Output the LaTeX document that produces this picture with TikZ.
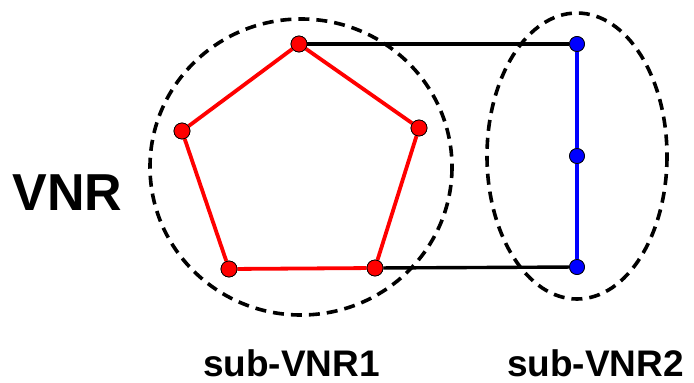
\documentclass[tikz,border=0pt]{standalone}
\usepackage{fontspec}
\setmainfont{Liberation Sans}
\begin{document}
\begin{tikzpicture}[x=1pt,y=-1pt,
  rednode/.style={circle,fill=red,draw=black,line width=0.7pt,minimum size=16pt,inner sep=0pt},
  bluenode/.style={circle,fill=blue,draw=black,line width=0.7pt,minimum size=15pt,inner sep=0pt},
  redline/.style={red,line width=3.8pt},
  blueline/.style={blue,line width=3.6pt},
  blackline/.style={black,line width=3.4pt},
  group/.style={black,line width=3.6pt,dash pattern=on 11pt off 7pt},
  lbl/.style={font=\bfseries,inner sep=0pt,anchor=base}]
\useasboundingbox (0,0) rectangle (694,383);
\draw[group] (301,167) ellipse [x radius=151, y radius=148];
\draw[group] (577,156) ellipse [x radius=90, y radius=143];
\node[rednode] (r1) at (299,44) {};
\node[rednode] (r2) at (419,128) {};
\node[rednode] (r3) at (375,268) {};
\node[rednode] (r4) at (229,269) {};
\node[rednode] (r5) at (182,131) {};
\node[bluenode] (b1) at (577,44) {};
\node[bluenode] (b2) at (577,156) {};
\node[bluenode] (b3) at (577,267) {};
\draw[blackline] (r1) -- (b1);
\draw[blackline] (r3) -- (b3);
\draw[redline] (r1) -- (r2) -- (r3) -- (r4) -- (r5) -- (r1);
\draw[blueline] (b1) -- (b2) -- (b3);
\foreach \n in {r1,r2,r3,r4,r5} \node[rednode] at (\n) {};
\foreach \n in {b1,b2,b3} \node[bluenode] at (\n) {};
\node[lbl,font=\fontsize{52}{60}\selectfont\bfseries] (vnr) at (67.5,210) {VNR};
\node[lbl,font=\fontsize{37}{44}\selectfont\bfseries] (s1) at (291.5,376) {sub-VNR1};
\node[lbl,font=\fontsize{37}{44}\selectfont\bfseries] (s2) at (595.5,376) {sub-VNR2};
\end{tikzpicture}
\end{document}
